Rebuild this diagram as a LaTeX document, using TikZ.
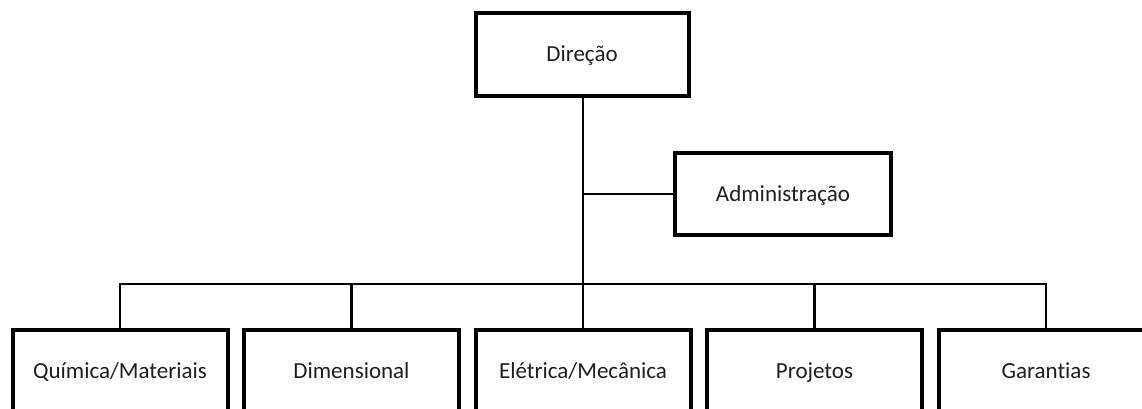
\documentclass[tikz,border=0pt]{standalone}
\usepackage{fontspec}
\setmainfont[Ligatures={NoCommon}]{Carlito}
\begin{document}
\begin{tikzpicture}[x=1pt,y=-1pt,
  orgbox/.style={draw=black,line width=4pt,fill=white,rectangle,
    minimum width=215pt,minimum height=83pt,inner sep=0pt,outer sep=0pt,
    text height=14.8pt,text depth=0pt,
    font=\fontsize{23}{27}\selectfont,text=black!88},
  link/.style={draw=black,line width=2.7pt}]
  \clip (0,0) rectangle (1142,409);
  \fill[white] (0,0) rectangle (1142,409);

  % top level and staff position
  \node[orgbox,minimum width=213pt] (dir) at (582,54.5) {Direção};
  \node[orgbox,minimum width=216pt,minimum height=82pt] (adm) at (783,194) {Administração};

  % departments
  \node[orgbox] (qui) at (120,371.5) {Química/Materiais};
  \node[orgbox] (dim) at (351.5,371.5) {Dimensional};
  \node[orgbox] (ele) at (583,371.5) {Elétrica/Mecânica};
  \node[orgbox] (pro) at (814.5,371.5) {Projetos};
  \node[orgbox] (gar) at (1046,371.5) {Garantias};

  \coordinate (bus) at (0,284);

  % connectors
  \draw[link] (ele.north |- dir.south) -- (ele.north);
  \draw[link] (adm.west) -- (adm.west -| ele.north);
  \draw[link] (qui.north) -- (qui.north |- bus) -- (gar.north |- bus) -- (gar.north);
  \draw[link] (dim.north) -- (dim.north |- bus);
  \draw[link] (pro.north) -- (pro.north |- bus);
\end{tikzpicture}
\end{document}
